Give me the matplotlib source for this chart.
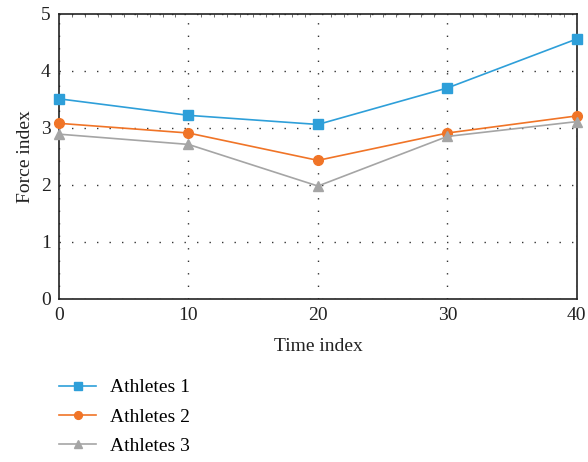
import matplotlib.pyplot as plt
from matplotlib.ticker import MultipleLocator

plt.rcParams['font.family'] = ['Liberation Serif', 'DejaVu Serif']

time_idx = [0, 10, 20, 30, 40]
athletes1 = [3.51, 3.22, 3.06, 3.70, 4.56]
athletes2 = [3.08, 2.91, 2.43, 2.91, 3.21]
athletes3 = [2.89, 2.71, 1.98, 2.85, 3.11]
labels = ['Athletes 1', 'Athletes 2', 'Athletes 3']

fig = plt.figure(figsize=(5.88, 4.62), dpi=100)
ax = fig.add_axes([0.1003, 0.353, 0.8807, 0.617])

ax.plot(time_idx, athletes1, color='#2e9fd9', marker='s', markersize=7, lw=1.2, label=labels[0], clip_on=False, zorder=3)
ax.plot(time_idx, athletes2, color='#f07427', marker='o', markersize=7, lw=1.2, label=labels[1], clip_on=False, zorder=3)
ax.plot(time_idx, athletes3, color='#a5a5a5', marker='^', markersize=7, lw=1.2, label=labels[2], clip_on=False, zorder=3)

ax.set_xlim(0, 40)
ax.set_ylim(0, 5)
ax.set_xticks(time_idx)
ax.set_yticks([0, 1, 2, 3, 4, 5])
ax.grid(True, color='#333333', linestyle=(0, (1, 8)), lw=1.0)
ax.tick_params(axis='both', length=0, labelsize=14, colors='#222222', pad=6)
ax.xaxis.set_minor_locator(MultipleLocator(1))
ax.tick_params(axis='x', which='minor', top=True, bottom=False, direction='in', length=2, color='#555555')

for s in ax.spines.values():
    s.set_color('#222222')
    s.set_linewidth(1.2)

ax.set_xlabel('Time index', fontsize=14, color='#222222', labelpad=10)
ax.set_ylabel('Force index', fontsize=14, color='#222222', labelpad=5)

fig.legend(loc='upper left', bbox_to_anchor=(0.071, 0.218), frameon=False, fontsize=14,
           handlelength=1.9, labelspacing=0.6, handletextpad=0.7, markerscale=0.8)

fig.savefig('out.png', dpi=100)
